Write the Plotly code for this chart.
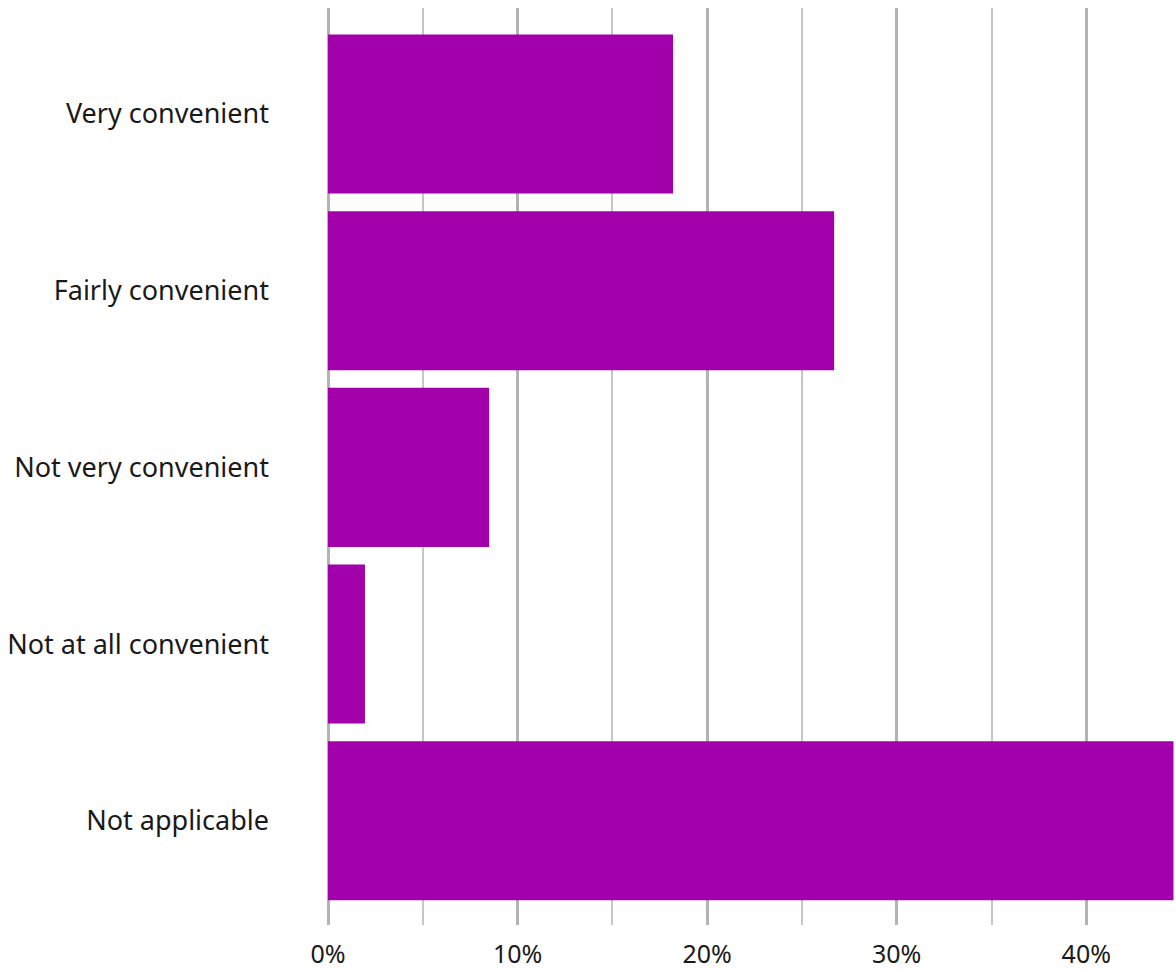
import plotly.graph_objects as go

categories = ["Very convenient", "Fairly convenient", "Not very convenient",
              "Not at all convenient", "Not applicable"]
shares = [18.2, 26.7, 8.5, 1.95, 44.6]
tick_values = [0, 10, 20, 30, 40]
tick_labels = ["0%", "10%", "20%", "30%", "40%"]

fig = go.Figure(go.Bar(
    x=shares,
    y=categories,
    orientation="h",
    marker=dict(color="#a100aa", line=dict(width=0)),
    hoverinfo="x+y",
))

fig.update_layout(
    width=1175,
    height=970,
    margin=dict(l=328, r=0, t=8, b=43),
    paper_bgcolor="white",
    plot_bgcolor="white",
    bargap=0.1,
    showlegend=False,
    font=dict(family="Noto Sans", size=27, color="#1a1a1a"),
)

fig.update_xaxes(
    range=[0, 44.68],
    tickvals=tick_values,
    ticktext=tick_labels,
    showgrid=True,
    gridcolor="#b3b3b3",
    gridwidth=3,
    zeroline=True,
    zerolinecolor="#b3b3b3",
    zerolinewidth=3,
    minor=dict(dtick=5, showgrid=True, gridcolor="#c6c6c6", gridwidth=2),
    showline=False,
    ticks="",
    ticklabelstandoff=12,
    tickfont=dict(size=25),
)

fig.update_yaxes(
    categoryorder="array",
    categoryarray=categories,
    autorange=False,
    range=[4.59, -0.6],
    showgrid=False,
    zeroline=False,
    showline=False,
    ticks="",
    ticklabelstandoff=58,
    tickfont=dict(size=27),
)

fig.write_html("out.html")
